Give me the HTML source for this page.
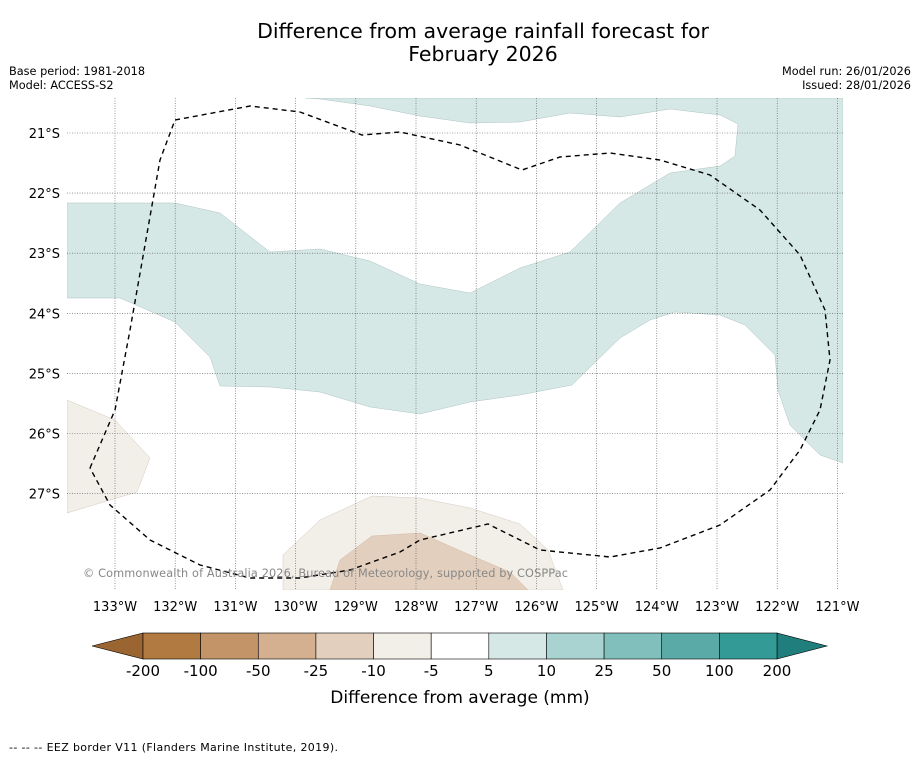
<!DOCTYPE html>
<html><head><meta charset="utf-8"><style>
body{margin:0;background:#fff;font-family:"Liberation Sans","DejaVu Sans",sans-serif;}
</style></head><body>
<svg width="919" height="758" viewBox="0 0 919 758" xmlns="http://www.w3.org/2000/svg" font-family="DejaVu Sans, Liberation Sans, sans-serif">
<rect width="919" height="758" fill="#fff"/>
<text x="483" y="38" font-size="20.5" text-anchor="middle">Difference from average rainfall forecast for</text>
<text x="483" y="61" font-size="20.5" text-anchor="middle">February 2026</text>
<g font-size="11.3"><text x="9" y="75">Base period: 1981-2018</text><text x="9" y="89">Model: ACCESS-S2</text></g>
<g font-size="11.3" text-anchor="end"><text x="911" y="75">Model run: 26/01/2026</text><text x="911" y="89">Issued: 28/01/2026</text></g>
<g>
<clipPath id="mc"><rect x="67" y="98" width="776" height="492"/></clipPath>
<g clip-path="url(#mc)">
<polygon fill="#d5e8e6" stroke="#9fb8b6" stroke-width="0.4" points="67,203 175,203 220,213 270,252 320,249 370,261 420,284 470,293 520,268 570,252 620,203 670,173 720,166 735,156 738,124 720,115 670,109 620,117 570,113 520,122 470,123 420,116 370,106 320,99 305,98 843,98 843,463 820,455 790,425 778,390 775,355 745,325 720,315 675,312 650,320 620,338 572,385 520,395 470,402 420,414 370,407 320,392 270,387 220,386 210,357 175,322 120,298 67,298"/>
<polygon fill="#f2eee8" stroke="#c8bfb4" stroke-width="0.4" points="67,400 115,420 150,458 137,492 67,513"/>
<polygon fill="#f2eee8" stroke="#c8bfb4" stroke-width="0.4" points="283,555 320,520 372,496 420,498 470,508 520,524 548,550 563,590 283,590"/>
<polygon fill="#e3cfbd" stroke="#c8b09a" stroke-width="0.4" points="330,590 340,560 372,536 420,533 470,555 510,572 528,590"/>
</g>
<g id="grid" stroke="#555" stroke-width="0.6" stroke-dasharray="1,1.5"></g>
<polyline fill="none" stroke="#000" stroke-width="1.4" stroke-dasharray="5,4" points="90,468 115,410 130,330 145,245 160,160 175,120 250,106 300,112 362,135 400,132 460,145 522,170 560,157 610,153 660,160 710,175 760,210 800,255 825,310 830,360 820,410 800,450 770,490 720,525 660,548 610,557 540,550 488,524 420,540 400,552 350,570 300,578 250,578 200,565 150,540 110,505 90,468"/>
<text x="83" y="577" font-size="11.3" fill="#888" textLength="485">© Commonwealth of Australia 2026, Bureau of Meteorology, supported by COSPPac</text>
</g>
<g id="ticks" font-size="13"></g>
<g id="cbar"></g>
<text x="460" y="703" font-size="17" text-anchor="middle">Difference from average (mm)</text>
<text x="9" y="751" font-size="11" textLength="329">--  --  -- EEZ border V11 (Flanders Marine Institute, 2019).</text>
</svg>
<script>
const lons=[133,132,131,130,129,128,127,126,125,124,123,122,121];
const lats=[21,22,23,24,25,26,27];
const bounds=["-200","-100","-50","-25","-10","-5","5","10","25","50","100","200"];
const colors=["#b07a40","#c39468","#d4b090","#e3cfbd","#f2eee8","#ffffff","#d5e8e6","#a9d3d1","#80bfbc","#5aaaa7","#339a96"];
const NS="http://www.w3.org/2000/svg";
const xL=lon=>115+(133-lon)*60.2;
const yL=lat=>133+(lat-21)*60.1;
const g=document.getElementById('grid'),t=document.getElementById('ticks');
function mk(tag,a,p){const e=document.createElementNS(NS,tag);for(const k in a)e.setAttribute(k,a[k]);p.appendChild(e);return e;}
lons.forEach(l=>{const x=xL(l);
const ln=mk('line',{x1:x,x2:x,y1:98,y2:590},g);


const tx=mk('text',{x:x,y:611,'text-anchor':'middle'},t);tx.textContent=l+'°W';

});
lats.forEach(l=>{const y=yL(l);
const ln=mk('line',{x1:67,x2:843,y1:y,y2:y},g);


const tx=mk('text',{x:60,y:y+5,'text-anchor':'end'},t);tx.textContent=l+'°S';

});
const cb=document.getElementById('cbar');
const x0=143,x1=777,w=(x1-x0)/colors.length,y0=633,h=26;
const le=mk('polygon',{points:`${x0},${y0} ${x0},${y0+h} 92,${y0+h/2}`,fill:'#9a6530',stroke:'#000','stroke-width':0.6},cb);


const re=mk('polygon',{points:`${x1},${y0} ${x1},${y0+h} 827,${y0+h/2}`,fill:'#207f7c',stroke:'#000','stroke-width':0.6},cb);


colors.forEach((c,i)=>{const r=mk('rect',{x:x0+i*w,y:y0,width:w,height:h,fill:c,stroke:'#000','stroke-width':0.6},cb);

});
bounds.forEach((b,i)=>{const tx=mk('text',{x:x0+i*w,y:676,'text-anchor':'middle','font-size':15},cb);tx.textContent=b;

});
</script>
</body></html>
